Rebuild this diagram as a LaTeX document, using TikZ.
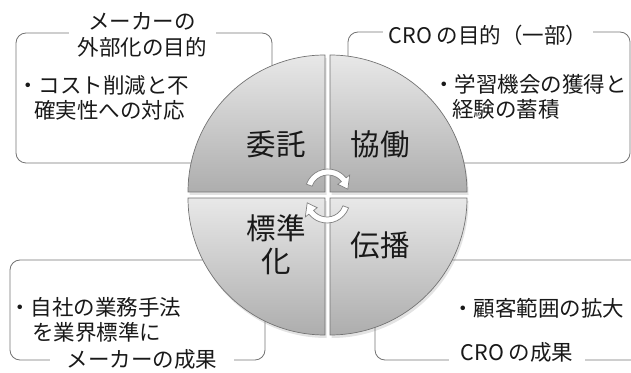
\documentclass[tikz,border=0pt]{standalone}
\usepackage{fontspec}
\setmainfont{Noto Sans CJK JP}
\usetikzlibrary{shadows}
\begin{document}
\begin{tikzpicture}[x=1pt,y=1pt,
  box/.style={draw=black!55, line width=0.8pt, rounded corners=10pt},
  ttl/.style={fill=white, font=\fontsize{21.5}{26}\selectfont, text=black!90, inner ysep=1pt, align=center},
  body/.style={font=\fontsize{21.5}{25}\selectfont, text=black!90, align=left, inner sep=0pt, anchor=west},
  quad/.style={draw=black!55, line width=0.7pt, top color=black!9, bottom color=black!32,
    drop shadow={opacity=0.22, shadow xshift=1.5pt, shadow yshift=-3pt}},
  lbl/.style={font=\fontsize{29.5}{33}\selectfont, text=black!90, align=center},
  arr/.style={fill=white, draw=black!50, line width=0.7pt}]
\useasboundingbox (0,0) rectangle (631,372);
\clip (0,0) rectangle (631,372);
% boxes
\draw[box] (16,209) rectangle (272,339);
\draw[box] (348,209) rectangle (630,340);
\draw[box] (10,12) rectangle (265,112);
\draw[box] (375,12) rectangle (650,112);
% titles
\node[ttl, inner xsep=9pt] (t1) at (142,337) {メーカーの\\外部化の目的};
\node[ttl, inner xsep=6pt] (t2) at (488,337) {CRO の目的（一部）};
\node[ttl, inner xsep=17pt] (t3) at (142,13) {メーカーの成果};
\node[ttl, inner xsep=12pt] (t4) at (517,20) {CRO の成果};
% bodies
\node[body] (b1) at (17,274.5) {・コスト削減と不\\\hspace*{17pt}確実性への対応};
\node[body] (b2) at (433,275.5) {・学習機会の獲得と\\\hspace*{19pt}経験の蓄積};
\node[body] (b3) at (9,52) {・自社の業務手法\\\hspace*{23pt}を業界標準に};
\node[body] (b4) at (452,64) {・顧客範囲の拡大};
% quadrants
\path[quad] (325,180) -- ++(-137,0) arc[start angle=180,end angle=90,radius=137] -- cycle;
\path[quad] (330,180) -- ++(0,137) arc[start angle=90,end angle=0,radius=137] -- cycle;
\path[quad] (325,174) -- ++(-137,0) arc[start angle=180,end angle=270,radius=137] -- cycle;
\path[quad] (330,174) -- ++(137,0) arc[start angle=0,end angle=-90,radius=137] -- cycle;
% labels
\node[lbl] (q1) at (276,228) {委託};
\node[lbl] (q2) at (380,228) {協働};
\node[lbl] (q3) at (276,127) {標準\\化};
\node[lbl] (q4) at (380,127) {伝播};
% circular arrows
\draw[arr, shift={(328,180)}] (160:23) arc[start angle=160,end angle=38,radius=23]
  -- (38:27.5) -- (8:20) -- (38:12.5) -- (38:17) arc[start angle=38,end angle=160,radius=17] -- cycle;
\draw[arr, shift={(327,172)}] (-20:23) arc[start angle=-20,end angle=-142,radius=23]
  -- (-142:27.5) -- (-172:20) -- (-142:12.5) -- (-142:17) arc[start angle=-142,end angle=-20,radius=17] -- cycle;
\end{tikzpicture}
\end{document}
